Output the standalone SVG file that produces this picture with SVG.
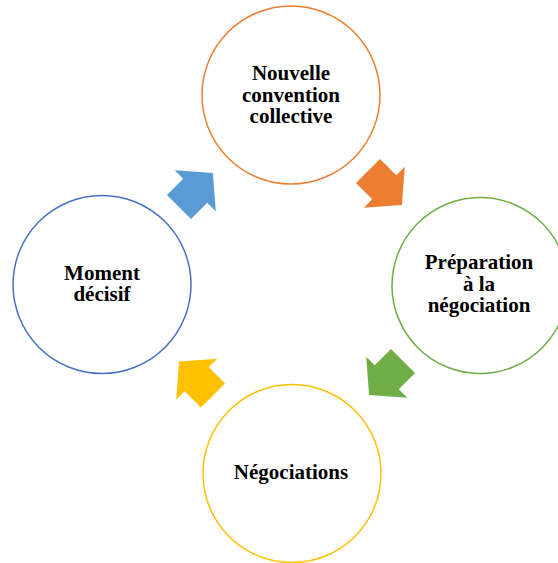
<svg xmlns="http://www.w3.org/2000/svg" width="558" height="563" viewBox="0 0 558 563">
<style>
.c{fill:#fff;stroke-width:1.5}
.t{font-family:"Liberation Serif","Times New Roman",serif;font-weight:bold;font-size:21px;fill:#000;text-anchor:middle}
</style>
<defs>
<path id="arr" d="M0,-17 L23,-17 L23,-29 L48,0 L23,29 L23,17 L0,17 Z"/>
</defs>
<rect width="558" height="563" fill="#fff"/>
<g id="connectors">
<use href="#arr" fill="#ED7D31" transform="translate(368,171) rotate(45)"/>
<use href="#arr" fill="#70AD47" transform="translate(403,361) rotate(135)"/>
<use href="#arr" fill="#FFC000" transform="translate(213,395.5) rotate(225)"/>
<use href="#arr" fill="#5B9BD5" transform="translate(179,207) rotate(-45)"/>
</g>
<g id="n1">
<circle class="c" cx="291" cy="95" r="89" stroke="#ED7D31"/>
<text class="t" x="291" y="80">Nouvelle</text>
<text class="t" x="291" y="102">convention</text>
<text class="t" x="291" y="123">collective</text>
</g>
<g id="n2">
<circle class="c" cx="480" cy="285.5" r="88" stroke="#70AD47"/>
<text class="t" x="479" y="269">Préparation</text>
<text class="t" x="479" y="291">à la</text>
<text class="t" x="479" y="312">négociation</text>
</g>
<g id="n3">
<circle class="c" cx="292" cy="473.5" r="89" stroke="#FFC000"/>
<text class="t" x="291" y="479">Négociations</text>
</g>
<g id="n4">
<circle class="c" cx="102" cy="284.5" r="89" stroke="#4472C4"/>
<text class="t" x="102" y="280">Moment</text>
<text class="t" x="102" y="301">décisif</text>
</g>
</svg>
